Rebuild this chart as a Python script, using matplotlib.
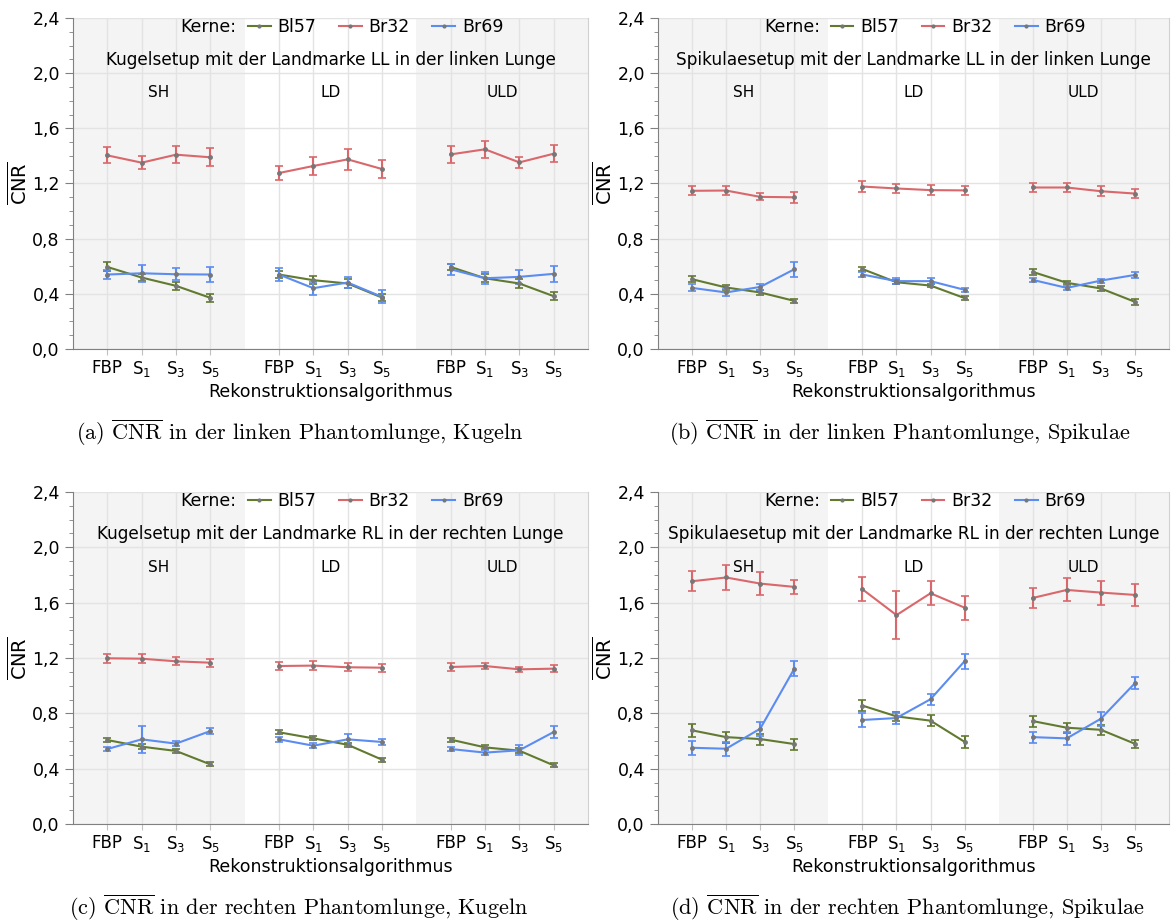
import numpy as np
import matplotlib
matplotlib.use("Agg")
import matplotlib.pyplot as plt
from matplotlib.lines import Line2D
from matplotlib.ticker import MultipleLocator, FuncFormatter

plt.rcParams['font.family'] = ['DejaVu Sans Condensed', 'DejaVu Sans']

algorithmen = ["FBP", "S$_1$", "S$_3$", "S$_5$"]
dosis = ["SH", "LD", "ULD"]
kerne = ["Bl57", "Br32", "Br69"]
farben = {"Bl57": "#617a30", "Br32": "#d9676b", "Br69": "#5b8cf2"}

# (a) Kugeln, linke Lunge  -- je 12 Werte: SH(FBP,S1,S3,S5), LD(...), ULD(...)
a_bl57 = [0.595, 0.518, 0.458, 0.371, 0.540, 0.499, 0.475, 0.373, 0.595, 0.513, 0.475, 0.383]
a_bl57_err = [0.033, 0.025, 0.028, 0.028, 0.025, 0.030, 0.030, 0.028, 0.022, 0.030, 0.030, 0.028]
a_br32 = [1.404, 1.351, 1.409, 1.390, 1.276, 1.327, 1.375, 1.305, 1.411, 1.448, 1.353, 1.416]
a_br32_err = [0.058, 0.048, 0.063, 0.064, 0.050, 0.064, 0.076, 0.063, 0.060, 0.063, 0.037, 0.063]
a_br69 = [0.540, 0.549, 0.542, 0.540, 0.540, 0.441, 0.482, 0.378, 0.578, 0.513, 0.523, 0.545]
a_br69_err = [0.030, 0.063, 0.042, 0.055, 0.045, 0.048, 0.040, 0.048, 0.040, 0.042, 0.050, 0.060]

# (b) Spikulae, linke Lunge
b_bl57 = [0.506, 0.446, 0.410, 0.349, 0.580, 0.484, 0.460, 0.369, 0.559, 0.480, 0.439, 0.342]
b_bl57_err = [0.020, 0.020, 0.015, 0.012, 0.015, 0.015, 0.012, 0.015, 0.020, 0.012, 0.015, 0.020]
b_br32 = [1.147, 1.149, 1.103, 1.100, 1.178, 1.164, 1.152, 1.150, 1.171, 1.171, 1.144, 1.127]
b_br32_err = [0.034, 0.034, 0.025, 0.040, 0.040, 0.035, 0.037, 0.035, 0.035, 0.035, 0.035, 0.035]
b_br69 = [0.443, 0.410, 0.450, 0.578, 0.540, 0.492, 0.492, 0.429, 0.501, 0.443, 0.496, 0.537]
b_br69_err = [0.025, 0.025, 0.020, 0.055, 0.020, 0.020, 0.020, 0.013, 0.015, 0.015, 0.015, 0.020]

# (c) Kugeln, rechte Lunge
c_bl57 = [0.607, 0.559, 0.528, 0.431, 0.663, 0.619, 0.573, 0.465, 0.610, 0.554, 0.530, 0.424]
c_bl57_err = [0.015, 0.020, 0.015, 0.015, 0.015, 0.015, 0.015, 0.015, 0.015, 0.015, 0.020, 0.015]
c_br32 = [1.198, 1.195, 1.176, 1.166, 1.142, 1.145, 1.133, 1.130, 1.135, 1.142, 1.118, 1.123]
c_br32_err = [0.033, 0.033, 0.030, 0.030, 0.030, 0.030, 0.030, 0.030, 0.030, 0.025, 0.020, 0.025]
c_br69 = [0.542, 0.612, 0.581, 0.672, 0.612, 0.566, 0.612, 0.593, 0.542, 0.516, 0.533, 0.665]
c_br69_err = [0.015, 0.096, 0.020, 0.020, 0.020, 0.020, 0.040, 0.020, 0.015, 0.020, 0.035, 0.040]

# (d) Spikulae, rechte Lunge
d_bl57 = [0.677, 0.628, 0.614, 0.578, 0.856, 0.778, 0.747, 0.594, 0.744, 0.696, 0.681, 0.580]
d_bl57_err = [0.045, 0.040, 0.040, 0.040, 0.040, 0.035, 0.040, 0.045, 0.040, 0.035, 0.035, 0.030]
d_br32 = [1.755, 1.782, 1.738, 1.714, 1.697, 1.510, 1.668, 1.564, 1.634, 1.692, 1.673, 1.656]
d_br32_err = [0.074, 0.088, 0.081, 0.048, 0.086, 0.175, 0.088, 0.087, 0.073, 0.083, 0.087, 0.079]
d_br69 = [0.551, 0.544, 0.689, 1.122, 0.752, 0.766, 0.902, 1.177, 0.628, 0.619, 0.761, 1.018]
d_br69_err = [0.050, 0.050, 0.050, 0.055, 0.050, 0.040, 0.040, 0.055, 0.040, 0.045, 0.050, 0.045]

titel = ["Kugelsetup mit der Landmarke LL in der linken Lunge",
         "Spikulaesetup mit der Landmarke LL in der linken Lunge",
         "Kugelsetup mit der Landmarke RL in der rechten Lunge",
         "Spikulaesetup mit der Landmarke RL in der rechten Lunge"]
unterschriften = [r"(a) $\overline{\mathrm{CNR}}$ in der linken Phantomlunge, Kugeln",
                  r"(b) $\overline{\mathrm{CNR}}$ in der linken Phantomlunge, Spikulae",
                  r"(c) $\overline{\mathrm{CNR}}$ in der rechten Phantomlunge, Kugeln",
                  r"(d) $\overline{\mathrm{CNR}}$ in der rechten Phantomlunge, Spikulae"]

daten = [
    {"Bl57": (a_bl57, a_bl57_err), "Br32": (a_br32, a_br32_err), "Br69": (a_br69, a_br69_err)},
    {"Bl57": (b_bl57, b_bl57_err), "Br32": (b_br32, b_br32_err), "Br69": (b_br69, b_br69_err)},
    {"Bl57": (c_bl57, c_bl57_err), "Br32": (c_br32, c_br32_err), "Br69": (c_br69, c_br69_err)},
    {"Bl57": (d_bl57, d_bl57_err), "Br32": (d_br32, d_br32_err), "Br69": (d_br69, d_br69_err)},
]

W, H = 1171, 921
fig = plt.figure(figsize=(W / 100, H / 100), dpi=100)

# axes boxes in pixels: left, top, right, bottom
boxen = [(73, 18, 588, 349), (658, 18, 1169, 349), (73, 492, 588, 824), (658, 492, 1169, 824)]
caption_pos = [(300, 433), (900, 433), (299, 908), (907, 908)]

n_alg = len(algorithmen)
xpos = []
for g in range(len(dosis)):
    for i in range(n_alg):
        xpos.append(g * (n_alg + 1) + i)
xpos = np.array(xpos)

fmt = FuncFormatter(lambda v, p: f"{v:.1f}".replace(".", ","))

for k in range(4):
    l, t, r, b = boxen[k]
    ax = fig.add_axes([l / W, 1 - b / H, (r - l) / W, (b - t) / H])
    xmin, xmax = -1, len(dosis) * (n_alg + 1) - 1
    ax.set_xlim(xmin, xmax)
    ax.set_ylim(0, 2.4)

    for g in range(len(dosis)):
        x0 = g * (n_alg + 1) - 1
        if g != 1:
            ax.axvspan(x0, x0 + n_alg + 1, color="#f4f4f4", zorder=0, lw=0)
        ax.text(x0 + (n_alg + 1) / 2, 1.857, dosis[g], ha="center", va="center", fontsize=11)

    for kern in kerne:
        werte, fehler = daten[k][kern]
        c = farben[kern]
        for g in range(len(dosis)):
            sl = slice(g * n_alg, (g + 1) * n_alg)
            ax.errorbar(xpos[sl], werte[sl], yerr=fehler[sl], color=c, lw=1.5,
                        elinewidth=1.5, capsize=3, capthick=1.2, marker="o", ms=2.5,
                        mfc="#777777", mec="#777777", zorder=3)

    ax.set_xticks(xpos)
    ax.set_xticklabels(algorithmen * len(dosis), fontsize=12)
    ax.yaxis.set_major_locator(MultipleLocator(0.4))
    ax.yaxis.set_minor_locator(MultipleLocator(0.1))
    ax.yaxis.set_major_formatter(fmt)
    ax.tick_params(axis="y", which="major", length=6, labelsize=12.5, color="#808080")
    ax.tick_params(axis="y", which="minor", length=3, color="#808080")
    ax.tick_params(axis="x", length=4, color="#c0c0c0", pad=3)
    ax.grid(True, which="major", color="#e3e3e3", lw=1, zorder=1)
    ax.set_axisbelow(True)
    ax.spines["top"].set_visible(False)
    ax.spines["right"].set_color("#d0d0d0")
    ax.spines["left"].set_color("#808080")
    ax.spines["bottom"].set_color("#808080")

    ax.set_xlabel("Rekonstruktionsalgorithmus", fontsize=12.5, labelpad=3)
    ax.set_ylabel(r"$\overline{\mathrm{CNR}}$", fontsize=14, labelpad=1,
                  math_fontfamily="dejavusans")

    ax.text((xmin + xmax) / 2, 2.096, titel[k], fontsize=12.2, ha="center", va="center",
            clip_on=True)

    ax.text(0.262, 0.973, "Kerne:", transform=ax.transAxes, fontsize=12.5, ha="center", va="center")
    handles = [Line2D([], [], color=farben[kern], lw=1.5, marker="o", ms=2,
                      mfc="#777777", mec="#777777") for kern in kerne]
    ax.legend(handles, kerne, ncol=3, loc="center", bbox_to_anchor=(0.588, 0.973),
              frameon=False, fontsize=12.5, handlelength=1.3, handletextpad=0.4,
              columnspacing=1.3, borderaxespad=0, borderpad=0)

    cx, cy = caption_pos[k]
    fig.text(cx / W, 1 - cy / H, unterschriften[k], ha="center", va="center",
             fontsize=16, family="cmr10", math_fontfamily="cm")

fig.savefig("out.png", dpi=100)
